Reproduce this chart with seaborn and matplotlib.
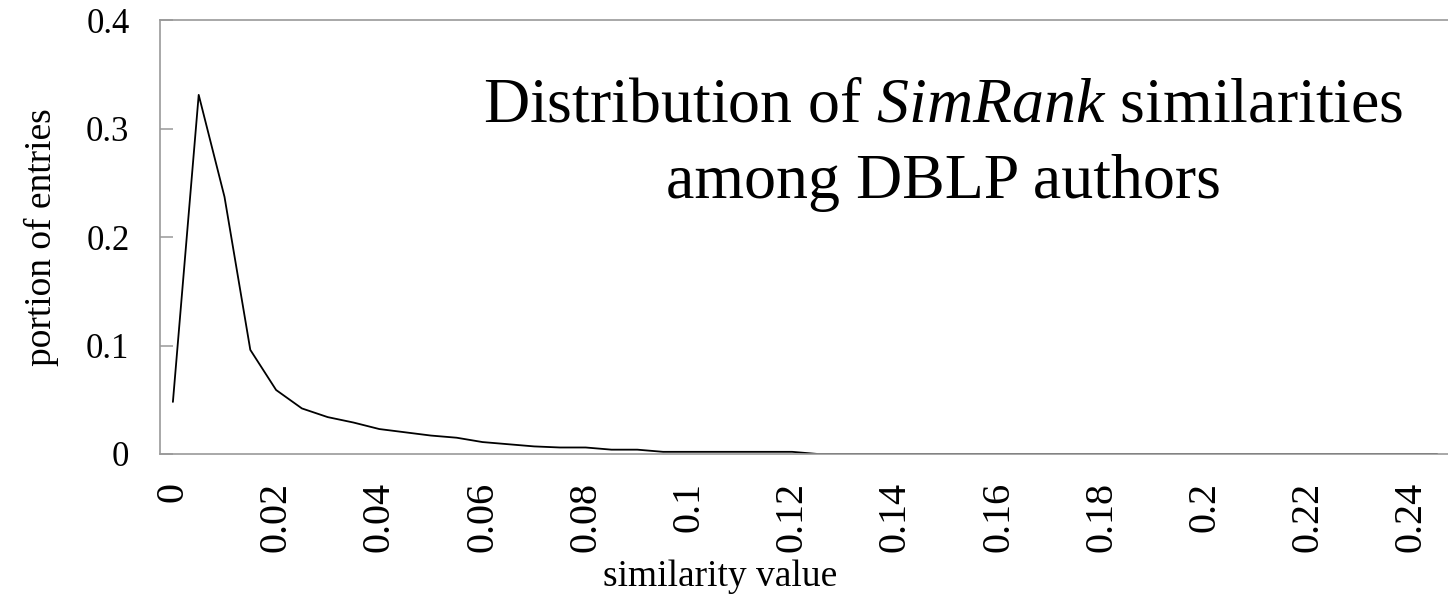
import matplotlib
matplotlib.use("Agg")
import matplotlib.pyplot as plt
import seaborn as sns
import pandas as pd

# Similarity bins (width 0.005) and the share of entries falling in each
similarity = [round(i * 0.005, 3) for i in range(50)]
portion = [
    0.048, 0.331, 0.237, 0.096, 0.059, 0.042, 0.034, 0.029, 0.023, 0.020,
    0.017, 0.015, 0.011, 0.009, 0.007, 0.006, 0.006, 0.004, 0.004, 0.002,
    0.002, 0.002, 0.002, 0.002, 0.002,
    0, 0, 0, 0, 0, 0, 0, 0, 0, 0,
    0, 0, 0, 0, 0, 0, 0, 0, 0, 0,
    0, 0, 0, 0, 0,
]
x_ticks = [0, 0.02, 0.04, 0.06, 0.08, 0.1, 0.12, 0.14, 0.16, 0.18, 0.2, 0.22, 0.24]
x_tick_labels = ["0", "0.02", "0.04", "0.06", "0.08", "0.1", "0.12",
                 "0.14", "0.16", "0.18", "0.2", "0.22", "0.24"]
y_ticks = [0, 0.1, 0.2, 0.3, 0.4]
y_tick_labels = ["0", "0.1", "0.2", "0.3", "0.4"]

df = pd.DataFrame({"similarity": similarity, "portion": portion})

sns.set_style("white")
plt.rcParams["font.family"] = ["Liberation Serif", "DejaVu Serif"]
plt.rcParams["mathtext.fontset"] = "custom"
plt.rcParams["mathtext.rm"] = "Liberation Serif"
plt.rcParams["mathtext.it"] = "Liberation Serif:italic"
plt.rcParams["text.color"] = "black"
plt.rcParams["axes.labelcolor"] = "black"
plt.rcParams["xtick.color"] = "black"
plt.rcParams["ytick.color"] = "black"

fig = plt.figure(figsize=(14.48, 6.02), dpi=100)
ax = fig.add_axes([160 / 1448, 1 - 454 / 602, 1290 / 1448, 434 / 602])

sns.lineplot(data=df, x="similarity", y="portion", color="black",
             linewidth=1.3, ax=ax)

ax.set_xlim(-0.0025, 0.2475)
ax.set_ylim(0, 0.4)

spine_color = "#999999"
for side in ["left", "top", "bottom", "right"]:
    ax.spines[side].set_color(spine_color)
    ax.spines[side].set_linewidth(1.2)
ax.spines["right"].set_visible(False)

ax.set_yticks(y_ticks)
ax.set_yticklabels(y_tick_labels, fontsize=25)
ax.tick_params(axis="y", direction="in", length=9, width=1.1,
               color=spine_color, labelcolor="black", pad=22, left=True)

ax.set_xticks(x_ticks)
ax.set_xticklabels(x_tick_labels, fontsize=29, rotation=90)
ax.tick_params(axis="x", length=0, pad=20, bottom=True, labelcolor="black")

ax.set_ylabel("portion of entries", fontsize=27, va="center")
ax.yaxis.set_label_coords(-0.0922, 0.5)
ax.set_xlabel("similarity value", fontsize=27, va="center")
ax.xaxis.set_label_coords(0.434, -0.2834)

ax.text(0.607, 0.765, r"Distribution of $\mathit{SimRank}$ similarities",
        transform=ax.transAxes, ha="center", va="baseline", fontsize=46,
        color="black")
ax.text(0.607, 0.59, "among DBLP authors",
        transform=ax.transAxes, ha="center", va="baseline", fontsize=46,
        color="black")

fig.savefig("out.png", dpi=100, facecolor="white")
